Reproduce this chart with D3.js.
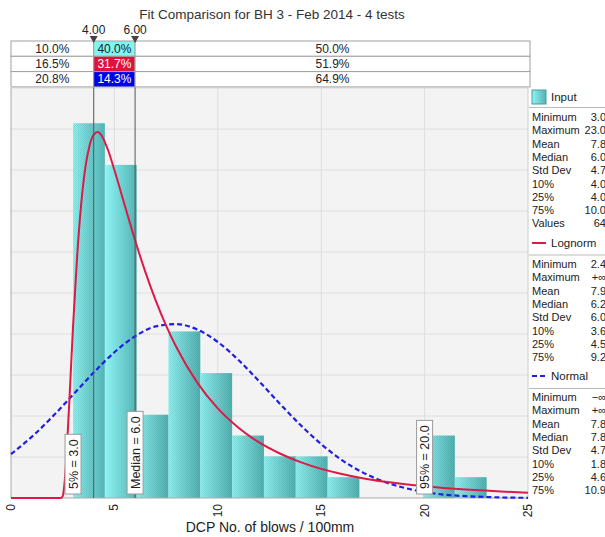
<!DOCTYPE html>
<html>
<head>
<meta charset="utf-8">
<script src="https://cdn.jsdelivr.net/npm/d3@7"></script>
<style>
  body { margin: 0; background: #fff; }
  text { font-family: "Liberation Sans", Arial, sans-serif; fill: #222; }
</style>
</head>
<body>
<div id="chart"></div>
<script>
// Values
const binStart = 3, binEnd = 23;
const binCounts = [18, 16, 4, 8, 6, 3, 2, 2, 1, 0, 0, 3, 1];
const totalValues = 64;

const lognormX = [0, 2.4, 2.5, 2.6, 2.8, 3.0, 3.2, 3.4, 3.6, 3.8, 4.0, 4.2, 4.4, 4.7, 5.0, 5.5, 6.0, 6.5, 7.0, 7.5, 8, 9, 10, 11, 12, 13, 14, 15, 16, 17, 18, 20, 22, 25];
const lognormY = [0, 0, 0.0009, 0.0084, 0.0430, 0.0837, 0.1182, 0.1440, 0.1615, 0.1720, 0.1772, 0.1785, 0.1765, 0.1695, 0.1600, 0.1428, 0.1257, 0.1102, 0.0963, 0.0841, 0.0735, 0.0564, 0.0437, 0.0343, 0.0271, 0.0217, 0.0175, 0.0142, 0.0117, 0.0096, 0.0080, 0.0057, 0.0041, 0.0026];

const normalX = [0, 1, 2, 3, 4, 5, 6, 7, 8, 9, 10, 11, 12, 13, 14, 15, 16, 17, 18, 19, 20, 21, 22, 23, 24, 25];
const normalY = [0.0214, 0.0298, 0.0396, 0.0504, 0.0612, 0.0711, 0.0789, 0.0837, 0.0848, 0.0822, 0.0761, 0.0673, 0.0569, 0.0460, 0.0356, 0.0263, 0.0185, 0.0125, 0.0081, 0.0050, 0.0029, 0.0016, 0.0009, 0.0005, 0.0002, 0.0001];

const xTicks = [0, 5, 10, 15, 20, 25];
const gridX = [5, 10, 15, 20];
const markers = [4, 6];
const markerLabels = ["4.00", "6.00"];

const tableLeft = ["10.0%", "16.5%", "20.8%"];
const tableMid = ["40.0%", "31.7%", "14.3%"];
const tableRight = ["50.0%", "51.9%", "64.9%"];

const quantileValues = [3, 6, 20];
const quantileLabels = ["5% = 3.0", "Median = 6.0", "95% = 20.0"];

const inputNames = ["Minimum", "Maximum", "Mean", "Median", "Std Dev", "10%", "25%", "75%", "Values"];
const inputValues = ["3.0", "23.0", "7.8", "6.0", "4.7", "4.0", "4.0", "10.0", "64"];
const fitNames = ["Minimum", "Maximum", "Mean", "Median", "Std Dev", "10%", "25%", "75%"];
const lognormValues = ["2.4", "+\u221e", "7.9", "6.2", "6.0", "3.6", "4.5", "9.2"];
const normalValues = ["\u2212\u221e", "+\u221e", "7.8", "7.8", "4.7", "1.8", "4.6", "10.9"];

// Layout
const width = 605, height = 537;
const plot = { left: 11, right: 528, top: 88, bottom: 498 };
const redColor = "#dc1a48", blueColor = "#1f1fe0";
const midFills = ["#80f6f0", "#dc143c", "#0000f0"];
const midText = ["#222", "#fff", "#fff"];

const svg = d3.select("#chart")
  .append("svg")
  .attr("width", width)
  .attr("height", height);

const defs = svg.append("defs");

const grad = defs.append("linearGradient")
  .attr("id", "barGrad")
  .attr("x1", "0").attr("x2", "1").attr("y1", "0").attr("y2", "0");
grad.append("stop").attr("offset", "0%").attr("stop-color", "#90f4f4");
grad.append("stop").attr("offset", "100%").attr("stop-color", "#52b3b3");

const pat = defs.append("pattern")
  .attr("id", "dots")
  .attr("width", 2).attr("height", 2)
  .attr("patternUnits", "userSpaceOnUse");
pat.append("rect").attr("width", 1).attr("height", 1).attr("fill", "rgba(0,0,0,0.09)");
pat.append("rect").attr("x", 1).attr("y", 1).attr("width", 1).attr("height", 1).attr("fill", "rgba(0,0,0,0.09)");

const x = d3.scaleLinear().domain([0, 25]).range([plot.left, plot.right]);
const y = d3.scaleLinear().domain([0, 0.2]).range([plot.bottom, plot.top]);

// Title
svg.append("text")
  .attr("x", 272)
  .attr("y", 19)
  .attr("text-anchor", "middle")
  .style("font-size", "13.5px")
  .style("fill", "#333")
  .text("Fit Comparison for BH 3 - Feb 2014 - 4 tests");

// Plot background and grid
svg.append("rect")
  .attr("x", plot.left).attr("y", plot.top)
  .attr("width", plot.right - plot.left)
  .attr("height", plot.bottom - plot.top)
  .attr("fill", "#f3f3f3");

svg.append("g")
  .selectAll("line")
  .data(y.ticks(10).filter(d => d > 0))
  .enter().append("line")
  .attr("x1", plot.left).attr("x2", plot.right)
  .attr("y1", d => y(d)).attr("y2", d => y(d))
  .attr("stroke", "#dedede");

svg.append("g")
  .selectAll("line")
  .data(gridX)
  .enter().append("line")
  .attr("x1", d => x(d)).attr("x2", d => x(d))
  .attr("y1", plot.top).attr("y2", plot.bottom)
  .attr("stroke", "#dedede");

// Histogram
const binWidth = (binEnd - binStart) / binCounts.length;
const bins = binCounts.map((c, i) => ({
  x0: binStart + i * binWidth,
  x1: binStart + (i + 1) * binWidth,
  density: c / (totalValues * binWidth)
}));

svg.append("g")
  .selectAll("rect")
  .data(bins.filter(d => d.density > 0))
  .enter().append("rect")
  .attr("x", d => x(d.x0))
  .attr("y", d => y(d.density))
  .attr("width", d => x(d.x1) - x(d.x0))
  .attr("height", d => y(0) - y(d.density))
  .attr("fill", "url(#barGrad)");

// dotted texture outside the 4-6 range
defs.append("clipPath").attr("id", "outside")
  .selectAll("rect")
  .data([[0, markers[0]], [markers[1], 25]])
  .enter().append("rect")
  .attr("x", d => x(d[0])).attr("y", plot.top)
  .attr("width", d => x(d[1]) - x(d[0]))
  .attr("height", plot.bottom - plot.top);

svg.append("g")
  .attr("clip-path", "url(#outside)")
  .selectAll("rect")
  .data(bins.filter(d => d.density > 0))
  .enter().append("rect")
  .attr("x", d => x(d.x0))
  .attr("y", d => y(d.density))
  .attr("width", d => x(d.x1) - x(d.x0))
  .attr("height", d => y(0) - y(d.density))
  .attr("fill", "url(#dots)");

// Plot border
svg.append("line")
  .attr("x1", plot.left).attr("x2", plot.left)
  .attr("y1", plot.top).attr("y2", plot.bottom)
  .attr("stroke", "#aaa");
svg.append("line")
  .attr("x1", plot.right).attr("x2", plot.right)
  .attr("y1", plot.top).attr("y2", plot.bottom)
  .attr("stroke", "#ccc");
svg.append("line")
  .attr("x1", plot.left).attr("x2", plot.right)
  .attr("y1", plot.bottom).attr("y2", plot.bottom)
  .attr("stroke", "#aaa");

// Fitted curves
const normalLine = d3.line()
  .x((d, i) => x(normalX[i]))
  .y(d => y(d))
  .curve(d3.curveMonotoneX);

svg.append("path")
  .datum(normalY)
  .attr("fill", "none")
  .attr("stroke", blueColor)
  .attr("stroke-width", 2.2)
  .attr("stroke-dasharray", "5,3")
  .attr("d", normalLine);

const lognormLine = d3.line()
  .x((d, i) => x(lognormX[i]))
  .y(d => y(d))
  .curve(d3.curveMonotoneX);

svg.append("path")
  .datum(lognormY)
  .attr("fill", "none")
  .attr("stroke", redColor)
  .attr("stroke-width", 2)
  .attr("d", lognormLine);

// Marker lines at 4 and 6
svg.append("g")
  .selectAll("line")
  .data(markers)
  .enter().append("line")
  .attr("x1", d => x(d)).attr("x2", d => x(d))
  .attr("y1", 41).attr("y2", plot.bottom)
  .attr("stroke", "#555");

// Quantile labels
quantileValues.forEach((v, i) => {
  const g = svg.append("g")
    .attr("transform", `translate(${x(v)},${plot.bottom - 9})`);
  const rect = g.append("rect");
  const t = g.append("text")
    .attr("transform", "rotate(-90)")
    .attr("x", 0)
    .attr("y", 4.5)
    .style("font-size", "12.5px")
    .text(quantileLabels[i]);
  const len = t.node().getComputedTextLength();
  rect.attr("x", -8)
    .attr("y", -len - 5)
    .attr("width", 16)
    .attr("height", len + 10)
    .attr("fill", "#fff")
    .attr("stroke", "#999");
});

// X axis tick labels and title
svg.append("g")
  .selectAll("text")
  .data(xTicks)
  .enter().append("text")
  .attr("transform", d => `translate(${x(d) + 4},504) rotate(-90)`)
  .attr("text-anchor", "end")
  .style("font-size", "12px")
  .text(d => d);

svg.append("text")
  .attr("x", 270)
  .attr("y", 532)
  .attr("text-anchor", "middle")
  .style("font-size", "14px")
  .text("DCP No. of blows / 100mm");

// Table above the plot
const tableTop = 41, rowH = 15.3, tableRightEdge = 530;
const cols = [plot.left, x(markers[0]), x(markers[1]), tableRightEdge];
const table = svg.append("g");

[tableLeft, tableMid, tableRight].forEach((col, c) => {
  col.forEach((val, r) => {
    table.append("rect")
      .attr("x", cols[c])
      .attr("y", tableTop + r * rowH)
      .attr("width", cols[c + 1] - cols[c])
      .attr("height", rowH)
      .attr("fill", c === 1 ? midFills[r] : "#fff")
      .attr("stroke", "#a0a0a0");
    table.append("text")
      .attr("x", (cols[c] + cols[c + 1]) / 2)
      .attr("y", tableTop + r * rowH + 11.5)
      .attr("text-anchor", "middle")
      .style("font-size", "12px")
      .style("fill", c === 1 ? midText[r] : "#222")
      .text(val);
  });
});

// Marker triangles and values
markers.forEach((m, i) => {
  svg.append("path")
    .attr("d", `M${x(m) - 4},${tableTop - 5}L${x(m) + 4},${tableTop - 5}L${x(m)},${tableTop + 2}Z`)
    .attr("fill", "#444");
  svg.append("text")
    .attr("x", x(m))
    .attr("y", 34)
    .attr("text-anchor", "middle")
    .style("font-size", "12px")
    .text(markerLabels[i]);
});

// Legend panel on the right
const lx = 532, vx = 606, step = 13.3;
const legend = svg.append("g");

legend.append("rect")
  .attr("x", lx).attr("y", 90)
  .attr("width", 14).attr("height", 14)
  .attr("fill", "url(#barGrad)")
  .attr("stroke", "#4a9c9c");
legend.append("text")
  .attr("x", 551).attr("y", 101)
  .style("font-size", "11.5px")
  .text("Input");

legend.append("line")
  .attr("x1", lx - 3).attr("x2", width).attr("y1", 255).attr("y2", 255)
  .attr("stroke", "#bbb");
legend.append("line")
  .attr("x1", lx - 3).attr("x2", width).attr("y1", 107.5).attr("y2", 107.5)
  .attr("stroke", "#bbb");
legend.append("line")
  .attr("x1", lx - 3).attr("x2", width).attr("y1", 388.5).attr("y2", 388.5)
  .attr("stroke", "#bbb");

legend.append("line")
  .attr("x1", lx).attr("x2", lx + 14).attr("y1", 243).attr("y2", 243)
  .attr("stroke", redColor).attr("stroke-width", 2);
legend.append("text")
  .attr("x", 551).attr("y", 247)
  .style("font-size", "11.5px")
  .text("Lognorm");

legend.append("line")
  .attr("x1", lx).attr("x2", lx + 14).attr("y1", 376).attr("y2", 376)
  .attr("stroke", blueColor).attr("stroke-width", 2.2)
  .attr("stroke-dasharray", "5,3");
legend.append("text")
  .attr("x", 551).attr("y", 380)
  .style("font-size", "11.5px")
  .text("Normal");

function statRows(names, values, y0) {
  names.forEach((n, i) => {
    legend.append("text")
      .attr("x", lx).attr("y", y0 + i * step)
      .style("font-size", "11px")
      .text(n);
    legend.append("text")
      .attr("x", vx).attr("y", y0 + i * step)
      .attr("text-anchor", "end")
      .style("font-size", "11px")
      .text(values[i]);
  });
}
statRows(inputNames, inputValues, 121);
statRows(fitNames, lognormValues, 268);
statRows(fitNames, normalValues, 401);
</script>
</body>
</html>
